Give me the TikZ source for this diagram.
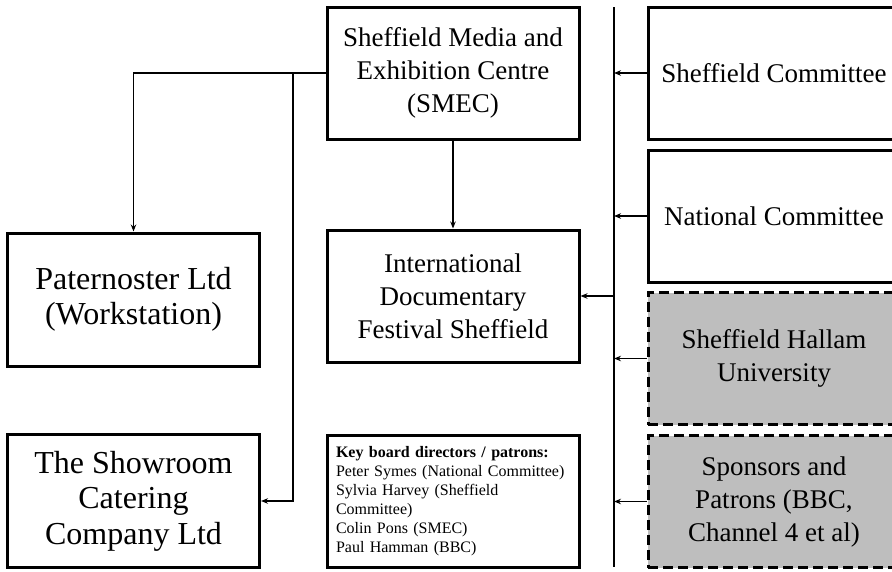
\documentclass[tikz,border=0pt]{standalone}
\usepackage{fontspec}
\setmainfont{Liberation Serif}
\usepackage{xcolor}
\usetikzlibrary{arrows.meta,calc}
\definecolor{partnergray}{RGB}{190,190,190}

\begin{document}
\begin{tikzpicture}[x=1pt,y=-1pt,>={Stealth[length=7pt,width=5.5pt]},line join=miter,
  orgbox/.style={draw,line width=3pt,rectangle,minimum width=252pt,minimum height=132pt,
    inner sep=0pt,align=center,font=\fontsize{27}{33}\selectfont},
  bigbox/.style={orgbox,minimum height=133pt,font=\fontsize{32}{35.5}\selectfont},
  partnerbox/.style={orgbox,fill=partnergray,dash pattern=on 10pt off 5pt},
  keybox/.style={orgbox,text width=234pt,inner xsep=9pt,align=left,
    font=\fontsize{16}{19}\selectfont},
  conn/.style={line width=1.6pt,->}]
  \useasboundingbox (0,0) rectangle (892,571);
  \clip (0,0) rectangle (892,571);
  \node[orgbox] (smec) at (453,73) {Sheffield Media and\\Exhibition Centre\\(SMEC)};
  \node[orgbox] (idfs) at (453,296) {International\\Documentary\\Festival Sheffield};
  \node[keybox] (keyb) at (453,501) {\textbf{Key board directors / patrons:}\\
    Peter Symes (National Committee)\\Sylvia Harvey (Sheffield\\Committee)\\
    Colin Pons (SMEC)\\Paul Hamman (BBC)};
  \node[bigbox] (pat) at (133.5,299.5) {Paternoster Ltd\\(Workstation)};
  \node[bigbox] (show) at (133.5,501) {The Showroom\\Catering\\Company Ltd};
  \node[orgbox] (shefc) at (774,73) {Sheffield Committee};
  \node[orgbox] (natc) at (774,216) {National Committee};
  \node[partnerbox] (hallam) at (774,358.5) {Sheffield Hallam\\University};
  \node[partnerbox] (spons) at (774,501.5) {Sponsors and\\Patrons (BBC,\\Channel 4 et al)};
  \coordinate (DT) at (614,7);
  \coordinate (DB) at (614,567);
  \coordinate (BR) at (293,73);
  \draw[line width=1.6pt] (DT) -- (DB);
  \draw[conn] (smec.west) -| (pat.north);
  \draw[conn] (BR) |- (show.east);
  \draw[conn] (smec.south) -- (idfs.north);
  \draw[conn] (idfs.east -| DT) -- (idfs.east);
  \draw[conn] (shefc.west) -- (shefc.west -| DT);
  \draw[conn] (natc.west) -- (natc.west -| DT);
  \draw[conn] (hallam.west) -- (hallam.west -| DT);
  \draw[conn] (spons.west) -- (spons.west -| DT);
\end{tikzpicture}
\end{document}
